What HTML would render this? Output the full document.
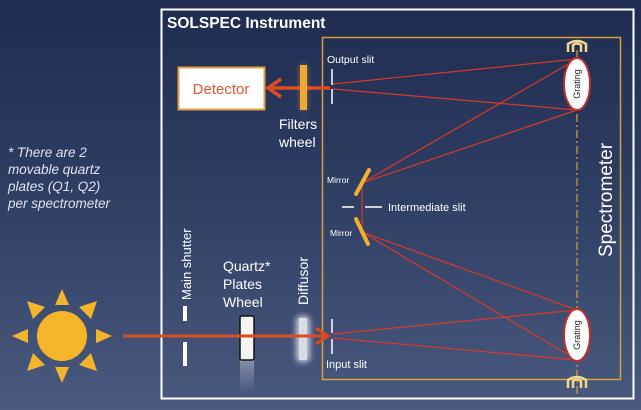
<!DOCTYPE html>
<html><head><meta charset="utf-8"><style>
html,body{margin:0;padding:0;}
body{width:641px;height:410px;overflow:hidden;background:linear-gradient(180deg,#1f2c50 0%,#2e3d62 45%,#4a5a7e 100%);}
svg{display:block}
text{font-family:"Liberation Sans",sans-serif;}
</style></head><body>
<svg width="641" height="410" viewBox="0 0 641 410" xmlns="http://www.w3.org/2000/svg">
<defs>
<filter id="glow" x="-100%" y="-50%" width="300%" height="200%"><feGaussianBlur stdDeviation="3"/></filter>
<linearGradient id="refl" x1="0" y1="0" x2="0" y2="1"><stop offset="0" stop-color="#fff" stop-opacity="0.35"/><stop offset="1" stop-color="#fff" stop-opacity="0"/></linearGradient>
</defs>
<!-- outer box -->
<rect x="161.5" y="9.5" width="472" height="389" fill="none" stroke="#fff" stroke-width="2"/>
<text x="167" y="28" fill="#fff" font-size="15.5" font-weight="bold">SOLSPEC Instrument</text>
<!-- spectrometer box -->
<rect x="322.5" y="37.5" width="298" height="342" fill="none" stroke="#d9a03a" stroke-width="1.5"/>
<text transform="translate(612,200) rotate(-90)" text-anchor="middle" fill="#fff" font-size="19">Spectrometer</text>
<!-- dash-dot axis -->
<line x1="577" y1="50" x2="577" y2="395" stroke="#d9a03a" stroke-width="1.2" stroke-dasharray="8,3,2,3"/>
<!-- rays -->
<g stroke="#d8392a" stroke-width="1.2" fill="none">
<line x1="333" y1="84" x2="577" y2="59"/>
<line x1="333" y1="89" x2="577" y2="110"/>
<line x1="362" y1="183" x2="577" y2="59"/>
<line x1="362" y1="183" x2="577" y2="110"/>
<line x1="362" y1="183" x2="362" y2="232"/>
<line x1="362" y1="232" x2="577" y2="310"/>
<line x1="362" y1="232" x2="577" y2="360"/>
<line x1="333" y1="334" x2="577" y2="310"/>
<line x1="333" y1="338" x2="577" y2="360"/>
</g>
<!-- gratings -->
<ellipse cx="577" cy="84" rx="13" ry="26" fill="#fff" stroke="#c0302a" stroke-width="2"/>
<text transform="translate(580,84) rotate(-90)" text-anchor="middle" font-size="9" fill="#222">Grating</text>
<ellipse cx="577" cy="335" rx="13" ry="26" fill="#fff" stroke="#c0302a" stroke-width="2"/>
<text transform="translate(580,335) rotate(-90)" text-anchor="middle" font-size="9" fill="#222">Grating</text>
<!-- rotation symbols -->
<g fill="none" stroke="#f0d890" stroke-width="2.5">
<path d="M568 52 L568 44 Q577 38 586 44 L586 52"/>
<path d="M573 52 L573 45 Q577 42 581 45 L581 52"/>
<path d="M568 388 L568 380 Q577 374 586 380 L586 388"/>
<path d="M573 388 L573 381 Q577 378 581 381 L581 388"/>
</g>
<!-- output slit -->
<line x1="332" y1="69" x2="332" y2="85" stroke="#fff" stroke-width="1.5"/>
<line x1="332" y1="89" x2="332" y2="104" stroke="#fff" stroke-width="1.5"/>
<text x="327" y="63" fill="#fff" font-size="10.5">Output slit</text>
<!-- detector arrow -->
<line x1="330" y1="88" x2="270" y2="88" stroke="#e04a20" stroke-width="3.5"/>
<polyline points="281,79 268,88 281,97" fill="none" stroke="#e04a20" stroke-width="3.5"/>
<!-- filter -->
<rect x="300" y="65" width="7" height="45" fill="#f0a830" filter="url(#glow)" opacity="0.5"/>
<rect x="300" y="65" width="7" height="45" fill="#f0a830"/>
<text x="279" y="129" fill="#fff" font-size="14">Filters</text>
<text x="279" y="147" fill="#fff" font-size="14">wheel</text>
<!-- detector -->
<rect x="178.5" y="67.5" width="86" height="42" fill="#fff" stroke="#e0a040" stroke-width="2"/>
<text x="221" y="94" text-anchor="middle" fill="#e05530" font-size="15">Detector</text>
<!-- mirrors -->
<line x1="356" y1="194" x2="369" y2="170" stroke="#f0b030" stroke-width="4" stroke-linecap="round"/>
<line x1="356" y1="219" x2="368" y2="244" stroke="#f0b030" stroke-width="4" stroke-linecap="round"/>
<text x="327" y="183" fill="#fff" font-size="8.5">Mirror</text>
<text x="330" y="236" fill="#fff" font-size="8.5">Mirror</text>
<line x1="342" y1="207" x2="354" y2="207" stroke="#fff" stroke-width="1.5"/>
<line x1="365" y1="207" x2="382" y2="207" stroke="#fff" stroke-width="1.5"/>
<text x="388" y="211" fill="#fff" font-size="11">Intermediate slit</text>
<!-- input slit -->
<line x1="332" y1="319" x2="332" y2="333" stroke="#fff" stroke-width="1.5"/>
<line x1="332" y1="339" x2="332" y2="354" stroke="#fff" stroke-width="1.5"/>
<text x="326" y="368" fill="#fff" font-size="11">Input slit</text>
<!-- main shutter -->
<rect x="183" y="306" width="4" height="15" fill="#fff"/>
<rect x="183" y="342" width="4" height="24" fill="#fff"/>
<text transform="translate(191,300) rotate(-90)" fill="#fff" font-size="13">Main shutter</text>
<!-- quartz -->
<rect x="240" y="360" width="14" height="32" fill="url(#refl)"/>
<rect x="240" y="316" width="14" height="44" rx="2" fill="#f4f4f4" stroke="#111" stroke-width="1.5"/>
<text x="223" y="271" fill="#fff" font-size="14">Quartz*</text>
<text x="223" y="289" fill="#fff" font-size="14">Plates</text>
<text x="223" y="307" fill="#fff" font-size="14">Wheel</text>
<!-- diffusor -->
<rect x="296" y="316" width="14" height="46" rx="4" fill="#fff" opacity="0.7" filter="url(#glow)"/>
<rect x="299" y="318" width="8" height="42" fill="#d8dce6"/>
<text transform="translate(308,305) rotate(-90)" fill="#fff" font-size="14">Diffusor</text>
<!-- main beam -->
<line x1="123" y1="336" x2="328" y2="336" stroke="#e04a20" stroke-width="3"/>
<polyline points="316,328 328,336 316,344" fill="none" stroke="#e04a20" stroke-width="3"/>
<!-- sun -->
<g fill="#f5b52a">
<circle cx="62" cy="336" r="25"/>
<polygon points="62,289 55,305 69,305"/>
<polygon points="62,383 55,367 69,367"/>
<polygon points="12,336 28,329 28,343"/>
<polygon points="112,336 96,329 96,343"/>
<polygon points="27,301 45,307 33,319"/>
<polygon points="97,301 79,307 91,319"/>
<polygon points="27,371 45,365 33,353"/>
<polygon points="97,371 79,365 91,353"/>
</g>
<!-- note -->
<g fill="#dfe3ec" font-size="13.5" font-style="italic">
<text x="8" y="157">* There are 2</text>
<text x="8" y="174">movable quartz</text>
<text x="8" y="191">plates (Q1, Q2)</text>
<text x="8" y="208">per spectrometer</text>
</g>
</svg>
</body></html>
